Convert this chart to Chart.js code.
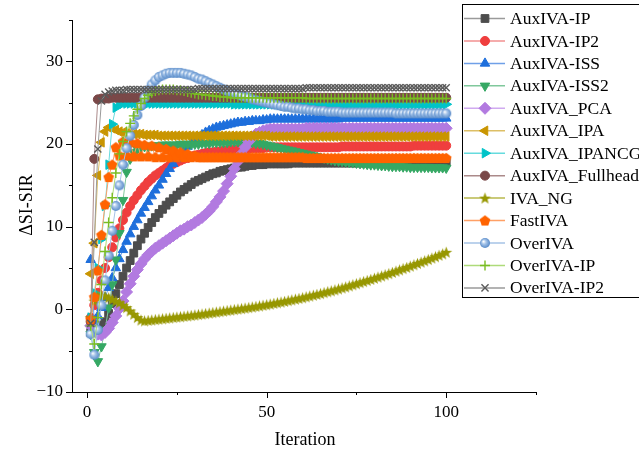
<!DOCTYPE html>
<html>
<head>
<meta charset="utf-8">
<script src="https://cdn.jsdelivr.net/npm/chart.js@4.4.1/dist/chart.umd.min.js"></script>
<style>
html, body { margin: 0; padding: 0; background: #fff; }
#wrap { width: 639px; height: 454px; }
</style>
</head>
<body>
<div id="wrap"><canvas id="chart10" width="639" height="454"></canvas></div>
<script>
// iteration index on x
const iterations = Array.from({length: 100}, (_, i) => i + 1);

const seriesNames = ['AuxIVA-IP', 'AuxIVA-IP2', 'AuxIVA-ISS', 'AuxIVA-ISS2', 'AuxIVA_PCA', 'AuxIVA_IPA',
    'AuxIVA_IPANCG', 'AuxIVA_Fullhead', 'IVA_NG', 'FastIVA', 'OverIVA', 'OverIVA-IP', 'OverIVA-IP2'];

const xTicks = [0, 50, 100];
const xMinor = [25, 75, 125];
const yTicks = [-10, 0, 10, 20, 30];
const yMinor = [-5, 5, 15, 25, 35];

const auxIvaIp = [
    -2.8, -2.5, -2.2, -1.9, -1.5, -0.5, 0.7, 1.9, 3.0, 4.0,
    5.0, 5.9, 6.8, 7.7, 8.5, 9.2, 9.9, 10.5, 11.1, 11.6,
    12.1, 12.6, 13.0, 13.4, 13.8, 14.2, 14.5, 14.8, 15.1, 15.4,
    15.6, 15.8, 16.0, 16.2, 16.4, 16.5, 16.7, 16.8, 16.9, 17.0,
    17.1, 17.2, 17.2, 17.3, 17.4, 17.4, 17.5, 17.5, 17.5, 17.6,
    17.6, 17.6, 17.6, 17.6, 17.6, 17.6, 17.7, 17.7, 17.7, 17.7,
    17.7, 17.7, 17.7, 17.7, 17.7, 17.7, 17.7, 17.7, 17.7, 17.7,
    17.7, 17.7, 17.7, 17.7, 17.7, 17.7, 17.7, 17.7, 17.7, 17.7,
    17.8, 17.8, 17.8, 17.8, 17.8, 17.8, 17.8, 17.8, 17.8, 17.8,
    17.8, 17.8, 17.8, 17.8, 17.8, 17.8, 17.8, 17.8, 17.8, 17.8];

const auxIvaIp2 = [
    -1.0, 0.5, 2.0, 3.5, 5.0, 6.3, 7.5, 8.7, 9.8, 10.8,
    11.7, 12.5, 13.2, 13.8, 14.4, 14.9, 15.4, 15.8, 16.2, 16.5,
    16.8, 17.1, 17.4, 17.6, 17.8, 18.0, 18.2, 18.3, 18.5, 18.6,
    18.7, 18.8, 18.9, 19.0, 19.0, 19.1, 19.1, 19.2, 19.2, 19.3,
    19.3, 19.3, 19.4, 19.4, 19.4, 19.5, 19.5, 19.5, 19.5, 19.6,
    19.6, 19.6, 19.6, 19.6, 19.6, 19.6, 19.6, 19.6, 19.6, 19.6,
    19.6, 19.6, 19.6, 19.6, 19.6, 19.6, 19.6, 19.6, 19.6, 19.6,
    19.7, 19.7, 19.7, 19.7, 19.7, 19.7, 19.7, 19.7, 19.7, 19.7,
    19.7, 19.7, 19.7, 19.7, 19.7, 19.7, 19.7, 19.7, 19.7, 19.7,
    19.8, 19.8, 19.8, 19.8, 19.8, 19.8, 19.8, 19.8, 19.8, 19.8];

const auxIvaIss = [
    6.0, -1.5, -0.8, 0.2, 1.4, 2.6, 3.8, 5.0, 6.1, 7.2,
    8.2, 9.1, 10.0, 10.8, 11.6, 12.3, 13.0, 13.7, 14.4, 15.0,
    15.7, 16.4, 17.0, 17.6, 18.2, 18.7, 19.2, 19.7, 20.1, 20.5,
    20.8, 21.1, 21.4, 21.6, 21.8, 22.0, 22.1, 22.2, 22.3, 22.4,
    22.5, 22.6, 22.6, 22.7, 22.7, 22.8, 22.8, 22.8, 22.9, 22.9,
    23.0, 23.0, 23.0, 23.0, 23.0, 23.0, 23.0, 23.0, 23.0, 23.0,
    23.0, 23.0, 23.0, 23.0, 23.0, 23.0, 23.0, 23.0, 23.0, 23.0,
    23.1, 23.1, 23.1, 23.1, 23.1, 23.1, 23.1, 23.1, 23.1, 23.1,
    23.1, 23.1, 23.1, 23.1, 23.1, 23.1, 23.1, 23.1, 23.1, 23.1,
    23.1, 23.1, 23.1, 23.1, 23.1, 23.1, 23.1, 23.1, 23.1, 23.1];

const auxIvaIss2 = [
    -3.0, -5.2, -6.3, -4.5, -2.5, 0.2, 3.0, 6.0, 9.2, 13.2,
    16.6, 18.2, 19.0, 19.4, 19.6, 19.7, 19.7, 19.8, 19.8, 19.8,
    19.9, 19.9, 19.9, 19.9, 19.9, 20.0, 20.0, 20.0, 20.0, 20.0,
    20.0, 20.1, 20.1, 20.1, 20.2, 20.2, 20.2, 20.2, 20.2, 20.3,
    20.3, 20.3, 20.3, 20.2, 20.2, 20.2, 20.1, 20.1, 20.0, 19.9,
    19.8, 19.7, 19.6, 19.5, 19.4, 19.3, 19.2, 19.1, 19.0, 18.9,
    18.8, 18.7, 18.6, 18.5, 18.4, 18.3, 18.2, 18.1, 18.0, 17.95,
    17.9, 17.85, 17.8, 17.75, 17.7, 17.65, 17.6, 17.55, 17.5, 17.5,
    17.45, 17.4, 17.4, 17.35, 17.3, 17.3, 17.3, 17.25, 17.25, 17.2,
    17.2, 17.2, 17.2, 17.2, 17.2, 17.15, 17.15, 17.15, 17.15, 17.1];

const auxIvaPca = [
    -2.0, -2.6, -3.0, -3.1, -2.8, -2.3, -1.6, -0.8, 0.1, 1.0,
    2.1, 3.1, 4.0, 4.8, 5.5, 6.1, 6.6, 7.0, 7.4, 7.7,
    8.0, 8.3, 8.6, 8.9, 9.2, 9.5, 9.7, 10.0, 10.2, 10.5,
    10.8, 11.1, 11.5, 11.9, 12.4, 13.0, 13.6, 14.3, 15.2, 16.1,
    17.0, 17.9, 18.8, 19.6, 20.3, 20.8, 21.2, 21.4, 21.6, 21.7,
    21.8, 21.8, 21.8, 21.8, 21.8, 21.8, 21.8, 21.8, 21.8, 21.8,
    21.9, 21.9, 21.9, 21.9, 21.9, 21.9, 21.9, 21.9, 21.9, 21.9,
    21.9, 21.9, 21.9, 21.9, 21.9, 21.9, 21.9, 21.9, 21.9, 21.9,
    21.9, 21.9, 21.9, 21.9, 21.9, 21.9, 21.9, 21.9, 21.9, 21.9,
    21.9, 21.9, 21.9, 21.9, 21.9, 21.9, 21.9, 21.9, 21.9, 21.9];

const auxIvaIpa = [
    4.3, 8.0, 16.2, 20.2, 21.5, 22.0, 21.9, 21.7, 21.5, 21.4,
    21.3, 21.3, 21.2, 21.2, 21.2, 21.1, 21.1, 21.1, 21.1, 21.0,
    21.0, 21.0, 21.0, 21.0, 21.0, 21.0, 21.0, 21.0, 21.0, 21.0,
    21.0, 21.0, 21.0, 21.0, 21.0, 21.0, 21.0, 21.0, 21.0, 21.0,
    21.0, 21.0, 21.0, 21.0, 21.0, 21.0, 21.0, 21.0, 21.0, 21.0,
    20.9, 20.9, 20.9, 20.9, 20.9, 20.9, 20.9, 20.9, 20.9, 20.9,
    20.9, 20.9, 20.9, 20.9, 20.9, 20.9, 20.9, 20.9, 20.9, 20.9,
    20.9, 20.9, 20.9, 20.9, 20.9, 20.9, 20.9, 20.9, 20.9, 20.9,
    20.9, 20.9, 20.9, 20.9, 20.9, 20.9, 20.9, 20.9, 20.9, 20.9,
    20.9, 20.9, 20.9, 20.9, 20.9, 20.9, 20.9, 20.9, 20.9, 20.9];

const auxIvaIpancg = [
    -1.0, 2.0, 5.0, 8.5, 12.5, 17.5, 22.4, 24.4, 24.8, 24.9,
    24.9, 24.9, 24.9, 24.9, 24.9, 24.9, 24.9, 24.9, 24.9, 24.9,
    24.9, 24.9, 24.9, 24.9, 24.9, 24.9, 24.9, 24.9, 24.9, 24.9,
    24.9, 24.9, 24.9, 24.9, 24.9, 24.9, 24.9, 24.9, 24.9, 24.9,
    24.8, 24.8, 24.8, 24.8, 24.8, 24.8, 24.8, 24.8, 24.8, 24.8,
    24.8, 24.8, 24.8, 24.8, 24.8, 24.8, 24.8, 24.8, 24.8, 24.8,
    24.8, 24.8, 24.8, 24.8, 24.8, 24.8, 24.8, 24.8, 24.8, 24.8,
    24.8, 24.8, 24.8, 24.8, 24.8, 24.8, 24.8, 24.8, 24.8, 24.8,
    24.8, 24.8, 24.8, 24.8, 24.8, 24.8, 24.8, 24.8, 24.8, 24.8,
    24.8, 24.8, 24.8, 24.8, 24.8, 24.8, 24.8, 24.8, 24.8, 24.8];

const auxIvaFullhead = [
    -1.5, 18.2, 25.4, 25.5, 25.5, 25.5, 25.6, 25.6, 25.6, 25.6,
    25.6, 25.6, 25.6, 25.6, 25.6, 25.6, 25.6, 25.6, 25.6, 25.6,
    25.6, 25.6, 25.6, 25.6, 25.6, 25.6, 25.6, 25.6, 25.6, 25.6,
    25.6, 25.6, 25.6, 25.6, 25.6, 25.6, 25.6, 25.6, 25.6, 25.6,
    25.6, 25.6, 25.6, 25.6, 25.6, 25.6, 25.6, 25.6, 25.6, 25.6,
    25.6, 25.6, 25.6, 25.6, 25.6, 25.6, 25.6, 25.6, 25.6, 25.6,
    25.6, 25.6, 25.6, 25.6, 25.6, 25.6, 25.6, 25.6, 25.6, 25.6,
    25.6, 25.6, 25.6, 25.6, 25.6, 25.6, 25.6, 25.6, 25.6, 25.6,
    25.6, 25.6, 25.6, 25.6, 25.6, 25.6, 25.6, 25.6, 25.6, 25.6,
    25.6, 25.6, 25.6, 25.6, 25.6, 25.6, 25.6, 25.6, 25.6, 25.6];

const ivaNg = [
    -1.0, 1.0, 1.6, 1.7, 1.6, 1.4, 1.2, 1.0, 0.8, 0.5,
    0.2, -0.2, -0.6, -1.0, -1.3, -1.4, -1.35, -1.3, -1.25, -1.2,
    -1.15, -1.1, -1.05, -1.0, -0.95, -0.9, -0.85, -0.8, -0.75, -0.7,
    -0.64, -0.58, -0.52, -0.46, -0.4, -0.34, -0.28, -0.22, -0.16, -0.1,
    -0.04, 0.02, 0.08, 0.14, 0.2, 0.27, 0.34, 0.41, 0.48, 0.55,
    0.63, 0.71, 0.79, 0.87, 0.95, 1.04, 1.13, 1.22, 1.31, 1.4,
    1.5, 1.6, 1.7, 1.8, 1.9, 2.01, 2.12, 2.23, 2.34, 2.46,
    2.58, 2.7, 2.83, 2.96, 3.09, 3.22, 3.35, 3.48, 3.61, 3.75,
    3.89, 4.03, 4.17, 4.31, 4.46, 4.61, 4.76, 4.91, 5.06, 5.22,
    5.38, 5.54, 5.7, 5.86, 6.02, 6.19, 6.36, 6.53, 6.7, 6.9];

const fastIva = [
    -1.2, 1.5, 4.7, 9.0, 12.7, 16.0, 17.5, 19.6, 18.6, 20.3,
    18.6, 20.2, 18.5, 20.1, 18.5, 19.9, 18.5, 19.8, 18.4, 19.6,
    18.4, 19.4, 18.4, 19.2, 18.4, 19.0, 18.4, 18.8, 18.4, 18.6,
    18.4, 18.4, 18.4, 18.4, 18.4, 18.4, 18.4, 18.4, 18.4, 18.4,
    18.4, 18.4, 18.4, 18.4, 18.4, 18.4, 18.4, 18.4, 18.4, 18.4,
    18.4, 18.4, 18.4, 18.4, 18.4, 18.4, 18.4, 18.4, 18.4, 18.4,
    18.3, 18.3, 18.3, 18.3, 18.3, 18.3, 18.3, 18.3, 18.3, 18.3,
    18.3, 18.3, 18.3, 18.3, 18.3, 18.3, 18.3, 18.3, 18.3, 18.3,
    18.3, 18.3, 18.3, 18.3, 18.3, 18.3, 18.3, 18.3, 18.3, 18.3,
    18.3, 18.3, 18.3, 18.3, 18.3, 18.3, 18.3, 18.3, 18.3, 18.3];

const overIva = [
    -3.0, -5.5, -2.5, 0.5, 3.5, 6.5, 9.5, 12.5, 15.0, 17.5,
    19.5, 21.0, 22.3, 23.5, 24.6, 25.6, 26.5, 27.2, 27.7, 28.1,
    28.3, 28.5, 28.6, 28.6, 28.6, 28.6, 28.5, 28.4, 28.3, 28.1,
    27.9, 27.8, 27.6, 27.4, 27.2, 27.0, 26.8, 26.6, 26.4, 26.3,
    26.1, 26.0, 25.8, 25.7, 25.6, 25.4, 25.3, 25.2, 25.1, 25.0,
    24.9, 24.8, 24.7, 24.6, 24.5, 24.5, 24.4, 24.3, 24.3, 24.2,
    24.2, 24.1, 24.1, 24.0, 24.0, 24.0, 23.9, 23.9, 23.9, 23.9,
    23.8, 23.8, 23.8, 23.8, 23.8, 23.8, 23.8, 23.8, 23.8, 23.8,
    23.8, 23.8, 23.8, 23.8, 23.8, 23.7, 23.7, 23.7, 23.7, 23.7,
    23.7, 23.7, 23.7, 23.7, 23.7, 23.7, 23.7, 23.7, 23.7, 23.7];

const overIvaIp = [
    -2.0, -4.2, -1.0, 3.0, 7.0, 10.5, 13.5, 16.5, 18.8, 20.3,
    21.5, 22.5, 23.4, 24.2, 24.9, 25.5, 25.9, 26.2, 26.4, 26.5,
    26.6, 26.6, 26.6, 26.6, 26.5, 26.5, 26.4, 26.3, 26.2, 26.1,
    26.0, 26.0, 25.9, 25.9, 25.8, 25.8, 25.7, 25.7, 25.7, 25.6,
    25.6, 25.6, 25.6, 25.6, 25.6, 25.6, 25.6, 25.6, 25.6, 25.6,
    25.6, 25.6, 25.6, 25.6, 25.6, 25.6, 25.6, 25.6, 25.6, 25.6,
    25.5, 25.5, 25.5, 25.5, 25.5, 25.5, 25.5, 25.5, 25.5, 25.5,
    25.5, 25.5, 25.5, 25.5, 25.5, 25.5, 25.5, 25.5, 25.5, 25.5,
    25.5, 25.5, 25.5, 25.5, 25.5, 25.5, 25.5, 25.5, 25.5, 25.5,
    25.5, 25.5, 25.5, 25.5, 25.5, 25.5, 25.5, 25.5, 25.5, 25.5];

const overIvaIp2 = [
    -1.7, 8.1, 19.4, 25.2, 26.0, 26.3, 26.4, 26.5, 26.5, 26.5,
    26.6, 26.6, 26.6, 26.6, 26.6, 26.6, 26.6, 26.6, 26.6, 26.6,
    26.6, 26.6, 26.6, 26.6, 26.6, 26.6, 26.6, 26.6, 26.6, 26.6,
    26.7, 26.7, 26.7, 26.7, 26.7, 26.7, 26.7, 26.7, 26.7, 26.7,
    26.7, 26.7, 26.7, 26.7, 26.7, 26.7, 26.7, 26.7, 26.7, 26.7,
    26.7, 26.7, 26.7, 26.7, 26.7, 26.7, 26.7, 26.7, 26.7, 26.7,
    26.8, 26.8, 26.8, 26.8, 26.8, 26.8, 26.8, 26.8, 26.8, 26.8,
    26.8, 26.8, 26.8, 26.8, 26.8, 26.8, 26.8, 26.8, 26.8, 26.8,
    26.8, 26.8, 26.8, 26.8, 26.8, 26.8, 26.8, 26.8, 26.8, 26.8,
    26.8, 26.8, 26.8, 26.8, 26.8, 26.8, 26.8, 26.8, 26.8, 26.8];

const seriesData = [auxIvaIp, auxIvaIp2, auxIvaIss, auxIvaIss2, auxIvaPca, auxIvaIpa,
    auxIvaIpancg, auxIvaFullhead, ivaNg, fastIva, overIva, overIvaIp, overIvaIp2];

// styles
const markColors = ['#4d4d4d', '#ef3e3e', '#1e6fdc', '#35a864', '#b27ae0', '#c99500', '#00c3c8',
    '#7a4848', '#979700', '#ff6300', '#6b9bd1', '#79bd22', '#5a5a5a'];
const lineColors = ['#9a9a9a', '#f29090', '#6fa0e8', '#80c89c', '#d0aaf0', '#ddbf66', '#66dbde',
    '#ab8a8a', '#b8b84d', '#ffa066', '#a6c3e6', '#aedb7a', '#9a9a9a'];

function makeMarker(size, draw) {
    let c = document.createElement('canvas');
    c.width = size;
    c.height = size;
    draw(c.getContext('2d'), size / 2);
    return c;
}

function polyPath(g, cx, cy, n, R, r) {
    g.beginPath();
    let k = r ? n * 2 : n;
    for (let i = 0; i < k; i++) {
        let a = -Math.PI / 2 + i * 2 * Math.PI / k;
        let rad = (r && i % 2) ? r : R;
        g.lineTo(cx + rad * Math.cos(a), cy + rad * Math.sin(a));
    }
    g.closePath();
}

const starImg = makeMarker(13, (g, c) => {
    polyPath(g, c, c + 0.5, 5, 6.2, 2.6);
    g.fillStyle = '#979700';
    g.fill();
});
const pentImg = makeMarker(12, (g, c) => {
    polyPath(g, c, c + 0.4, 5, 5.6, 0);
    g.fillStyle = '#ff6300';
    g.fill();
});
const sphereImg = makeMarker(12, (g, c) => {
    let grd = g.createRadialGradient(c - 1.6, c - 1.6, 0.3, c, c, 5.5);
    grd.addColorStop(0, '#ffffff');
    grd.addColorStop(0.35, '#a8c6ea');
    grd.addColorStop(1, '#4d82c4');
    g.beginPath();
    g.arc(c, c, 5, 0, Math.PI * 2);
    g.fillStyle = grd;
    g.fill();
});

const pointStyles = ['rect', 'circle', 'triangle', 'triangle', 'rectRot', 'triangle', 'triangle',
    'circle', starImg, pentImg, sphereImg, 'cross', 'crossRot'];
const pointRotations = [0, 0, 0, 180, 0, 270, 90, 0, 0, 0, 0, 0, 0];
const pointRadii = [5.5, 4.5, 5.5, 5.5, 6, 5.5, 5.5, 4.5, 5, 5, 5, 5, 5];

Chart.defaults.font.family = '"Liberation Serif", "Times New Roman", serif';
Chart.defaults.color = '#000';

const datasets = seriesNames.map((name, i) => ({
    label: name,
    data: seriesData[i],
    borderColor: lineColors[i],
    borderWidth: 1,
    backgroundColor: markColors[i],
    pointStyle: pointStyles[i],
    pointRotation: pointRotations[i],
    pointRadius: pointRadii[i],
    pointHoverRadius: pointRadii[i],
    pointBackgroundColor: markColors[i],
    pointBorderColor: markColors[i],
    pointBorderWidth: i >= 11 ? 1.4 : 1,
    order: seriesNames.length - i,
    tension: 0,
}));

// ticks, axis titles and the legend box on top of the plot
const decorPlugin = {
    id: 'decor',
    afterDraw(chart) {
        const ctx = chart.ctx;
        const xs = chart.scales.x;
        const ys = chart.scales.y;
        const area = chart.chartArea;
        ctx.save();
        ctx.strokeStyle = '#000';
        ctx.lineWidth = 1;
        ctx.beginPath();
        yTicks.forEach(v => {
            let py = Math.round(ys.getPixelForValue(v)) + 0.5;
            ctx.moveTo(area.left - 6, py);
            ctx.lineTo(area.left, py);
        });
        yMinor.forEach(v => {
            let py = Math.round(ys.getPixelForValue(v)) + 0.5;
            ctx.moveTo(area.left - 3, py);
            ctx.lineTo(area.left, py);
        });
        xTicks.forEach(v => {
            let px = Math.round(xs.getPixelForValue(v)) + 0.5;
            ctx.moveTo(px, area.bottom);
            ctx.lineTo(px, area.bottom + 6);
        });
        xMinor.forEach(v => {
            let px = Math.round(xs.getPixelForValue(v)) + 0.5;
            ctx.moveTo(px, area.bottom);
            ctx.lineTo(px, area.bottom + 3);
        });
        ctx.stroke();

        ctx.fillStyle = '#000';
        ctx.font = '18px "Liberation Serif"';
        ctx.textAlign = 'center';
        ctx.textBaseline = 'middle';
        ctx.fillText('Iteration', 305, 440);
        ctx.save();
        ctx.translate(27, 205);
        ctx.rotate(-Math.PI / 2);
        ctx.fillText('\u0394SI-SIR', 0, 0);
        ctx.restore();

        // legend
        const boxL = 462.5, boxT = 4.5, boxB = 297.5;
        ctx.fillStyle = '#fff';
        ctx.fillRect(boxL, boxT, 200, boxB - boxT);
        ctx.strokeStyle = '#000';
        ctx.strokeRect(boxL, boxT, 200, boxB - boxT);
        const drawPoint = Chart.helpers && Chart.helpers.drawPoint;
        seriesNames.forEach((name, i) => {
            let y = 18.5 + 22.45 * i;
            ctx.strokeStyle = lineColors[i];
            ctx.lineWidth = 1.5;
            ctx.beginPath();
            ctx.moveTo(464, y);
            ctx.lineTo(505, y);
            ctx.stroke();
            ctx.fillStyle = markColors[i];
            ctx.strokeStyle = markColors[i];
            ctx.lineWidth = i >= 11 ? 1.4 : 1;
            if (drawPoint) {
                drawPoint(ctx, {
                    pointStyle: pointStyles[i],
                    rotation: pointRotations[i],
                    radius: pointRadii[i],
                    borderWidth: ctx.lineWidth
                }, 485, y);
            }
            ctx.fillStyle = '#000';
            ctx.font = '17.5px "Liberation Serif"';
            ctx.textAlign = 'left';
            ctx.textBaseline = 'middle';
            ctx.fillText(name, 510, y + 1);
        });
        ctx.restore();
    }
};

const ctx10 = document.getElementById('chart10').getContext('2d');
const chart10 = new Chart(ctx10, {
    type: 'line',
    data: {
        labels: iterations,
        datasets: datasets,
    },
    options: {
        responsive: false,
        animation: false,
        events: [],
        layout: {
            padding: {left: 0, right: 103, top: 20, bottom: 0}
        },
        plugins: {
            legend: {display: false},
            title: {display: false},
            tooltip: {enabled: false},
        },
        scales: {
            x: {
                type: 'linear',
                min: -4.2,
                max: 125,
                afterFit: s => { s.height = 62; },
                afterBuildTicks: s => { s.ticks = xTicks.map(v => ({value: v})); },
                grid: {display: false, drawTicks: false},
                border: {display: true, color: '#000', width: 1},
                ticks: {
                    font: {size: 17},
                    padding: 10,
                    maxRotation: 0,
                    callback: v => String(v),
                },
            },
            y: {
                type: 'linear',
                min: -10,
                max: 35,
                afterFit: s => { s.width = 72; },
                afterBuildTicks: s => { s.ticks = yTicks.map(v => ({value: v})); },
                grid: {display: false, drawTicks: false},
                border: {display: true, color: '#000', width: 1},
                ticks: {
                    font: {size: 17},
                    padding: 9,
                    callback: v => v < 0 ? '\u2212' + Math.abs(v) : String(v),
                },
            },
        },
    },
    plugins: [decorPlugin],
});
</script>
</body>
</html>
